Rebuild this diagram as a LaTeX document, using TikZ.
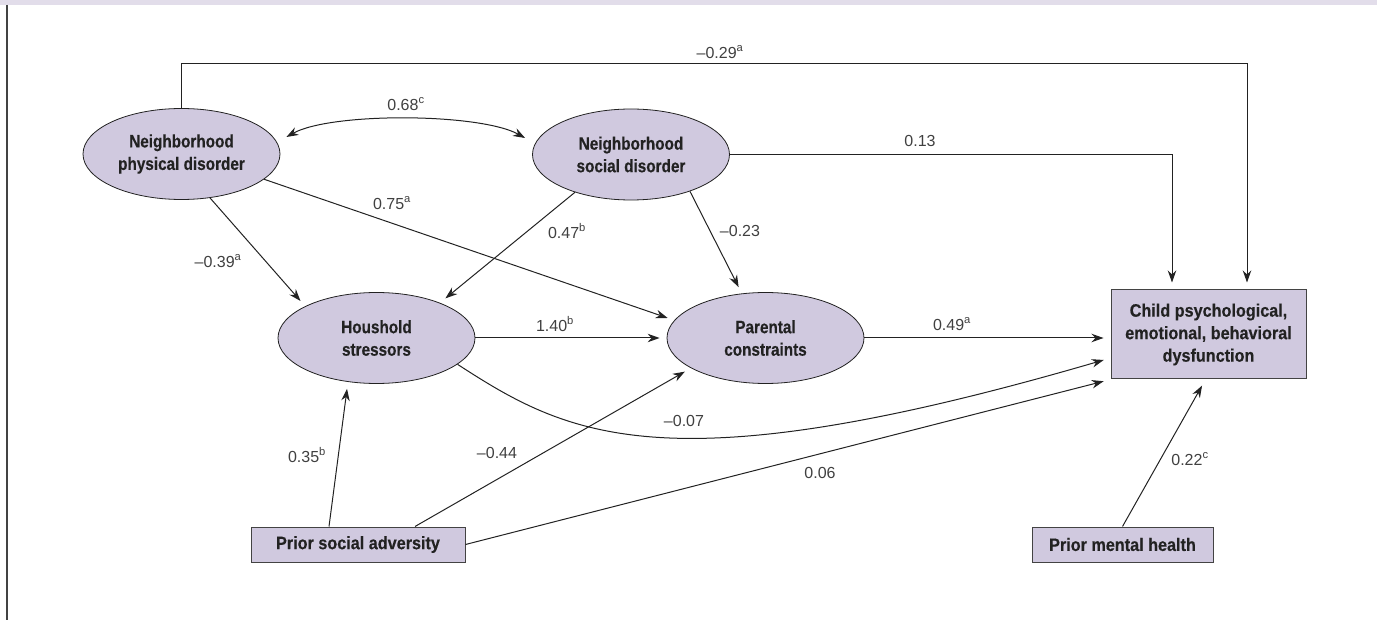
\documentclass[tikz,border=0pt]{standalone}
\usepackage{fontspec}
\setmainfont{Liberation Sans}
\newfontfamily\nf[FakeStretch=0.85,BoldFeatures={FakeBold=0.4}]{Liberation Sans}
\newfontfamily\boxfont[FakeStretch=0.9,BoldFeatures={FakeBold=0.4}]{Liberation Sans}
\usetikzlibrary{shapes.geometric,arrows.meta,calc}
\definecolor{lav}{HTML}{D0C9DF}
\definecolor{band}{HTML}{E2DDEA}
\definecolor{ink}{HTML}{222222}
\definecolor{lbl}{HTML}{404040}
\begin{document}
\begin{tikzpicture}[x=1pt,y=-1pt,
  latent/.style={ellipse, draw=ink, fill=lav, line width=0.8pt, minimum width=197pt, minimum height=91pt, inner sep=0pt, align=center, font=\nf\bfseries\fontsize{18}{22.5}\selectfont, text=ink},
  obs/.style={rectangle, draw=ink!85, fill=lav, line width=1pt, inner sep=0pt, align=center, font=\boxfont\bfseries\fontsize{18}{22.5}\selectfont, text=ink},
  arr/.style={-{Stealth[length=12pt,width=8.5pt]}, line width=1pt, draw=ink, shorten >=7pt},
  lab/.style={font=\fontsize{16}{18}\selectfont, text=lbl, inner sep=1pt}]
\useasboundingbox (0,0) rectangle (1377,620);
\fill[band] (0,0) rectangle (1377,5);
\draw[line width=2pt, ink!85] (7,5) -- (7,620);

\node[latent] (npd) at (181.5,154) {Neighborhood\\physical disorder};
\node[latent] (nsd) at (631,154.5) {Neighborhood\\social disorder};
\node[latent] (hh) at (376.5,338) {Houshold\\stressors};
\node[latent] (pc) at (765.5,338) {Parental\\constraints};
\node[obs, minimum width=195pt, minimum height=89pt] (child) at (1208.5,334.5) {Child psychological,\\emotional, behavioral\\dysfunction};
\node[obs, minimum width=214pt, minimum height=35pt] (psa) at (358,544.5) {Prior social adversity};
\node[obs, minimum width=181pt, minimum height=35pt] (pmh) at (1122.5,544.5) {Prior mental health};

\draw[arr] (npd.north) -- ++(0,-44.5) -| ([xshift=38.5pt]child.north);
\draw[arr] (nsd.east) -| ([xshift=-36.5pt]child.north);
\draw[{Stealth[length=12pt,width=8.5pt]}-{Stealth[length=12pt,width=8.5pt]}, line width=1pt, ink]
  ([shift={(6,-17)}]npd.east) .. controls +(45,-25) and +(-45,-25) .. ([shift={(-7,-16.5)}]nsd.west);
\draw[arr] (npd.-57) -- (hh.156);
\draw[arr] (npd.-17) -- (pc.169);
\draw[arr] (nsd.214) -- (hh.29);
\draw[arr] (nsd.-32) -- (pc.118);
\draw[arr] (hh.east) -- (pc.west);
\draw[arr] (pc.east) -- (pc.east -| child.west);
\draw[arr] (hh.-18) .. controls (568,436) and (665,488) .. ([yshift=-23.5pt]child.west);
\draw[arr] (psa.east) -- (child.south west);
\draw[arr] ([xshift=-29pt]psa.north) -- (hh.237);
\draw[arr] ([xshift=57pt]psa.north) -- (pc.202);
\draw[arr] (pmh.north) -- ([xshift=-3pt]child.south);

\node[lab] (l1) at (720,52) {–0.29\textsuperscript{a}};
\node[lab] (l2) at (406,104) {0.68\textsuperscript{c}};
\node[lab] (l3) at (920,141) {0.13};
\node[lab] (l4) at (392,203) {0.75\textsuperscript{a}};
\node[lab] (l5) at (218,261) {–0.39\textsuperscript{a}};
\node[lab] (l6) at (567,231) {0.47\textsuperscript{b}};
\node[lab] (l7) at (740,231) {–0.23};
\node[lab] (l8) at (555,324) {1.40\textsuperscript{b}};
\node[lab] (l9) at (952,324) {0.49\textsuperscript{a}};
\node[lab] (l10) at (684,421) {–0.07};
\node[lab] (l11) at (307,455) {0.35\textsuperscript{b}};
\node[lab] (l12) at (497,453) {–0.44};
\node[lab] (l13) at (820,473) {0.06};
\node[lab] (l14) at (1190,459) {0.22\textsuperscript{c}};
\end{tikzpicture}
\end{document}
